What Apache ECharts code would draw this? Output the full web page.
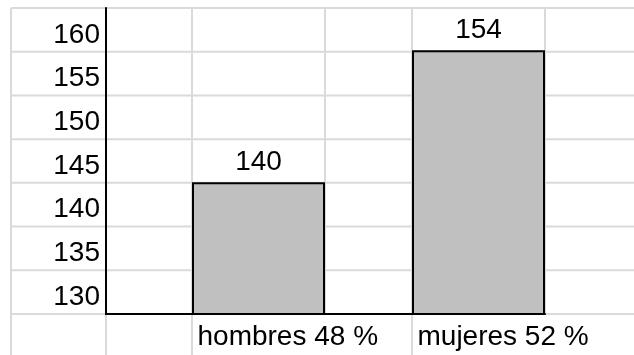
<!DOCTYPE html>
<html>
<head>
<meta charset="utf-8">
<script src="https://cdn.jsdelivr.net/npm/echarts@6/dist/echarts.min.js"></script>
<style>
  html, body { margin: 0; padding: 0; background: #fff; }
  #chart { width: 634px; height: 355px; }
</style>
</head>
<body>
<div id="chart"></div>
<script>
// Data
const categories = ['hombres 48 %', 'mujeres 52 %'];
const values = [140, 154];
const rowLabels = ['130', '135', '140', '145', '150', '155', '160'];

// Layout
const W = 634, H = 355;
const TOP = 8, BOTTOM = 41;
const AXIS_X = 106;          // vertical axis position
const AXIS_END_X = 545;      // end of the horizontal axis
const PLOT_LEFT = 148.5;     // category band start
const PLOT_RIGHT = 45.5;
const sheetCols = [11, 106, 192, 325, 412, 545];
const colsStopAtBase = [325, 545];
const FONT = "'Liberation Sans', Arial, sans-serif";
const GRID_COLOR = '#dadada';

const rowH = (H - TOP - BOTTOM) / rowLabels.length;
const baseY = H - BOTTOM;

// Spreadsheet-style background lines
const sheet = [];
for (let i = 0; TOP + i * rowH <= H + rowH; i++) {
  const y = TOP + i * rowH;
  sheet.push({
    type: 'line', silent: true, z: -1,
    shape: { x1: sheetCols[0], y1: y, x2: W, y2: y },
    style: { stroke: GRID_COLOR, lineWidth: 2 }
  });
}
sheetCols.forEach(x => {
  const y2 = colsStopAtBase.includes(x) ? baseY : H;
  sheet.push({
    type: 'line', silent: true, z: -1,
    shape: { x1: x, y1: TOP, x2: x, y2: y2 },
    style: { stroke: GRID_COLOR, lineWidth: 2 }
  });
});

const chart = echarts.init(document.getElementById('chart'), null, { renderer: 'canvas' });
chart.setOption({
  animation: false,
  backgroundColor: '#fff',
  graphic: sheet,
  grid: [
    { left: PLOT_LEFT, right: PLOT_RIGHT, top: TOP, bottom: BOTTOM, containLabel: false },
    { left: AXIS_X, right: W - AXIS_END_X, top: TOP, bottom: BOTTOM, containLabel: false }
  ],
  xAxis: [
    {
      type: 'category', gridIndex: 0, data: categories,
      axisLine: { show: false }, axisTick: { show: false },
      splitLine: { show: false },
      axisLabel: {
        margin: 9, interval: 0,
        formatter: v => '{c|' + v + '}',
        rich: { c: { width: 122, align: 'left', fontSize: 28, fontFamily: FONT, color: '#000' } }
      }
    },
    {
      type: 'value', gridIndex: 1, min: 0, max: 1,
      axisLine: { show: true, lineStyle: { color: '#000', width: 2 } },
      axisTick: { show: false }, axisLabel: { show: false }, splitLine: { show: false }
    }
  ],
  yAxis: [
    {
      type: 'category', gridIndex: 1, data: rowLabels, position: 'left',
      axisLine: { show: true, lineStyle: { color: '#000', width: 2 } },
      axisTick: { show: false }, splitLine: { show: false },
      axisLabel: {
        margin: 6, fontSize: 28, fontFamily: FONT, color: '#000',
        verticalAlign: 'top', lineHeight: 10
      }
    },
    {
      type: 'value', gridIndex: 0, min: 126, max: 158.5, show: false,
      splitLine: { show: false }
    }
  ],
  series: [{
    type: 'bar',
    xAxisIndex: 0, yAxisIndex: 1,
    data: values,
    barWidth: 133,
    itemStyle: { color: '#c0c0c0', borderColor: '#000', borderWidth: 2 },
    label: {
      show: true, position: 'top', distance: 6,
      fontSize: 28, fontFamily: FONT, color: '#000'
    }
  }]
});
</script>
</body>
</html>
